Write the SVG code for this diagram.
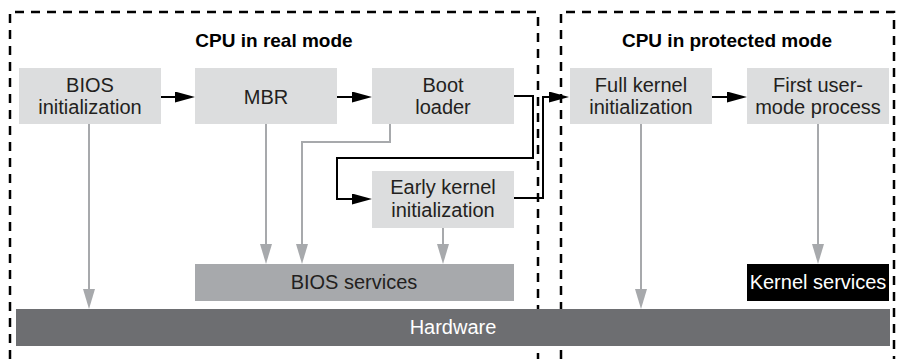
<svg xmlns="http://www.w3.org/2000/svg" width="897" height="359" viewBox="0 0 897 359">
<style>
  .bg { fill: #ffffff; }
  .node { fill: #dcddde; }
  .t { font-family: "Liberation Sans", Arial, sans-serif; font-size: 20px; fill: #231f20; text-anchor: middle; }
  .title { font-family: "Liberation Sans", Arial, sans-serif; font-size: 19px; font-weight: bold; fill: #000; text-anchor: middle; }
  .frame { fill: none; stroke: #000; stroke-width: 2.5; stroke-dasharray: 9 7; }
  .blk { fill: none; stroke: #000; stroke-width: 2; }
  .gry { fill: none; stroke: #a7a9ac; stroke-width: 2; }
</style>
<defs>
  <marker id="ah-black" markerUnits="userSpaceOnUse" markerWidth="21" markerHeight="11" refX="1" refY="5.5" orient="auto">
    <path d="M0,0 L20,5.5 L0,11 z" fill="#000"/>
  </marker>
  <marker id="ah-gray" markerUnits="userSpaceOnUse" markerWidth="21" markerHeight="12" refX="1" refY="6" orient="auto">
    <path d="M0,0 L20,6 L0,12 z" fill="#a7a9ac"/>
  </marker>
</defs>
<rect class="bg" x="0" y="0" width="897" height="359"/>

<g id="frames">
  <path class="frame" d="M10,359 V12 H538 V359"/>
  <path class="frame" d="M561,359 V12 H894 V359"/>
  <text class="title" x="274" y="47">CPU in real mode</text>
  <text class="title" x="727" y="47">CPU in protected mode</text>
</g>

<g id="hardware">
  <rect x="16" y="309" width="874" height="37" fill="#6d6e71"/>
  <text class="t" x="453" y="334" style="fill:#ffffff">Hardware</text>
</g>
<g id="bios-services">
  <rect x="195" y="264" width="319" height="37" fill="#a7a9ac"/>
  <text class="t" x="354" y="289">BIOS services</text>
</g>
<g id="kernel-services">
  <rect x="747" y="264" width="142" height="37" fill="#000"/>
  <text class="t" x="818" y="289" style="fill:#ffffff">Kernel services</text>
</g>

<g id="bios-init">
  <rect class="node" x="19" y="68" width="142" height="56"/>
  <text class="t" x="90" y="92">BIOS</text>
  <text class="t" x="90" y="114">initialization</text>
</g>
<g id="mbr">
  <rect class="node" x="195" y="68" width="142" height="56"/>
  <text class="t" x="266" y="104">MBR</text>
</g>
<g id="boot-loader">
  <rect class="node" x="372" y="68" width="142" height="56"/>
  <text class="t" x="443" y="92">Boot</text>
  <text class="t" x="443" y="114">loader</text>
</g>
<g id="early-kernel">
  <rect class="node" x="372" y="171" width="142" height="57"/>
  <text class="t" x="443" y="194">Early kernel</text>
  <text class="t" x="443" y="217">initialization</text>
</g>
<g id="full-kernel">
  <rect class="node" x="570" y="68" width="142" height="56"/>
  <text class="t" x="641" y="92">Full kernel</text>
  <text class="t" x="641" y="114">initialization</text>
</g>
<g id="first-user">
  <rect class="node" x="747" y="68" width="142" height="56"/>
  <text class="t" x="818" y="92">First user-</text>
  <text class="t" x="818" y="114">mode process</text>
</g>

<g id="connectors">
  <path class="blk" marker-end="url(#ah-black)" d="M161,97 H176"/>
  <path class="blk" marker-end="url(#ah-black)" d="M337,97 H353"/>
  <path class="blk" marker-end="url(#ah-black)" d="M514,96 H533 V158 H337 V199 H353"/>
  <path class="blk" marker-end="url(#ah-black)" d="M514,198 H543 V97 H550"/>
  <path class="blk" marker-end="url(#ah-black)" d="M712,97 H728"/>
  <path class="gry" marker-end="url(#ah-gray)" d="M89,124 V290"/>
  <path class="gry" marker-end="url(#ah-gray)" d="M266,124 V245"/>
  <path class="gry" marker-end="url(#ah-gray)" d="M390,124 V142 H302 V245"/>
  <path class="gry" marker-end="url(#ah-gray)" d="M443,228 V245"/>
  <path class="gry" marker-end="url(#ah-gray)" d="M641,124 V290"/>
  <path class="gry" marker-end="url(#ah-gray)" d="M818,124 V245"/>
</g>
</svg>
